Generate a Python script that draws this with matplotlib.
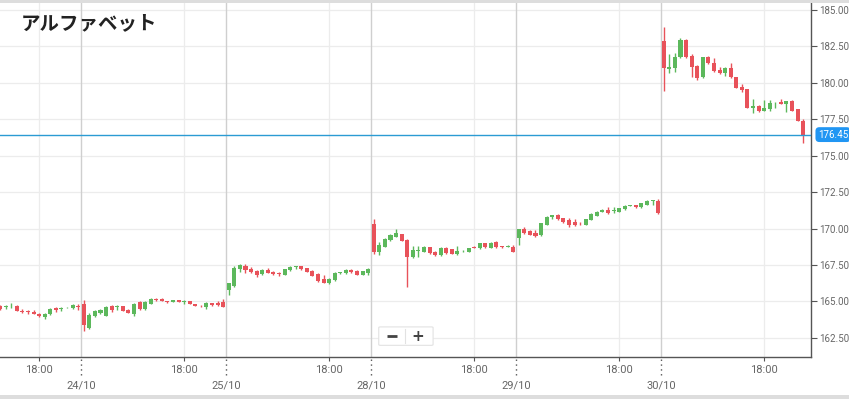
import numpy as np
import matplotlib
matplotlib.use('Agg')
import matplotlib.pyplot as plt
from matplotlib.patches import FancyBboxPatch, Rectangle
from matplotlib.transforms import blended_transform_factory

plt.rcParams['font.family'] = ['Roboto', 'Noto Sans CJK JP', 'DejaVu Sans']

title = 'アルファベット'
last_price = 176.45

opens = [164.72, 164.60, 164.67, 164.72, 164.36, 164.33, 164.30, 164.17, 163.93, 164.12,
         164.54, 164.47, 164.54, 164.55, 164.72,
         164.82, 163.20, 164.00, 164.18, 164.03, 164.67, 164.60, 164.67, 164.42, 164.12,
         164.94, 164.47, 164.86, 165.15, 165.14, 165.00, 164.95, 165.10, 164.96, 165.03,
         164.81, 164.72, 164.65, 164.88, 164.92, 164.98,
         165.80, 166.03, 167.25, 167.40, 167.25, 167.12, 166.89, 167.16, 167.05, 166.98,
         166.83, 167.16, 167.36, 167.40, 167.28, 167.10, 166.90, 166.52, 166.25, 166.47,
         166.94, 166.94, 167.14, 167.12, 166.85, 166.93,
         170.32, 168.42, 168.77, 169.22, 169.45, 169.63, 169.22, 168.03, 168.45, 168.42,
         168.72, 168.42, 168.20, 168.65, 168.58, 168.24, 168.44, 168.42, 168.76, 168.66,
         168.99, 168.68, 169.06, 168.80, 168.74, 168.76,
         169.33, 169.95, 169.84, 169.72, 169.57, 170.27, 170.82, 170.93, 170.70, 170.60,
         170.42, 170.34, 170.27, 170.60, 170.87, 171.16, 171.28, 171.18, 171.17, 171.33,
         171.55, 171.62, 171.47, 171.62, 171.88, 171.92,
         182.87, 180.98, 181.00, 181.76, 182.94, 181.86, 181.15, 180.38, 181.76, 181.38,
         180.88, 180.70, 181.00, 180.38, 179.73, 179.56, 178.30, 178.41, 178.10, 178.20,
         178.60, 178.71, 178.53, 178.76, 178.19, 177.40]
highs = [164.78, 164.75, 164.88, 164.75, 164.45, 164.42, 164.42, 164.22, 164.22, 164.52,
         164.62, 164.65, 164.60, 164.84, 164.82,
         165.10, 164.18, 164.40, 164.47, 164.67, 164.76, 164.76, 164.70, 164.45, 164.88,
         165.00, 165.05, 165.22, 165.22, 165.22, 165.02, 165.12, 165.12, 165.08, 165.05,
         164.83, 164.74, 164.94, 164.92, 165.03, 165.15,
         166.30, 167.45, 167.60, 167.55, 167.35, 167.16, 167.20, 167.33, 167.12, 167.05,
         167.24, 167.40, 167.45, 167.46, 167.30, 167.16, 166.98, 166.82, 166.60, 167.05,
         167.05, 167.25, 167.20, 167.16, 167.10, 167.33,
         170.65, 169.10, 169.35, 169.63, 169.95, 169.65, 169.27, 168.80, 168.80, 168.80,
         168.76, 168.45, 168.75, 168.72, 168.60, 168.80, 168.55, 168.70, 168.82, 169.02,
         169.02, 169.08, 169.15, 168.83, 168.85, 168.90,
         170.00, 170.13, 169.90, 169.90, 170.40, 170.85, 170.95, 170.98, 170.75, 170.70,
         170.66, 170.42, 170.68, 171.05, 171.20, 171.32, 171.50, 171.45, 171.43, 171.60,
         171.65, 171.65, 171.76, 171.95, 171.98, 172.00,
         183.85, 182.00, 182.03, 183.06, 183.00, 181.96, 181.22, 181.80, 181.85, 181.68,
         181.12, 181.12, 181.38, 180.42, 179.90, 179.60, 178.87, 178.50, 178.82, 178.84,
         178.72, 178.90, 178.78, 178.80, 178.22, 177.50]
lows = [164.42, 164.45, 164.58, 164.33, 164.20, 164.17, 164.12, 163.95, 163.83, 164.10,
        164.30, 164.36, 164.52, 164.50, 164.42,
        163.00, 163.08, 163.95, 164.12, 164.00, 164.30, 164.42, 164.35, 164.18, 164.03,
        164.42, 164.42, 164.81, 165.00, 165.00, 164.92, 164.93, 164.93, 164.82, 164.80,
        164.68, 164.65, 164.46, 164.72, 164.72, 164.62,
        165.45, 165.98, 167.05, 166.95, 166.93, 166.66, 166.82, 166.93, 166.82, 166.76,
        166.80, 167.12, 167.22, 167.18, 167.00, 166.75, 166.32, 166.28, 166.18, 166.42,
        166.90, 166.88, 166.96, 166.82, 166.82, 166.84,
        168.25, 168.20, 168.72, 169.15, 169.43, 169.15, 166.02, 167.98, 168.05, 168.40,
        168.27, 168.10, 168.10, 168.25, 168.25, 168.22, 168.40, 168.40, 168.64, 168.62,
        168.70, 168.64, 168.65, 168.70, 168.72, 168.38,
        168.88, 169.60, 169.55, 169.40, 169.50, 170.22, 170.64, 170.60, 170.40, 170.10,
        170.15, 170.28, 170.25, 170.58, 170.84, 171.14, 171.00, 171.05, 171.15, 171.30,
        171.53, 171.44, 171.44, 171.60, 171.65, 171.00,
        179.46, 180.66, 180.77, 181.70, 181.72, 180.38, 180.20, 180.36, 181.30, 180.75,
        180.60, 180.47, 180.36, 179.64, 179.40, 178.28, 177.95, 178.00, 178.07, 178.10,
        178.28, 178.52, 178.02, 178.05, 177.38, 175.90]
closes = [164.50, 164.67, 164.72, 164.36, 164.26, 164.26, 164.17, 164.02, 164.15, 164.49,
          164.44, 164.54, 164.58, 164.77, 164.60,
          163.42, 164.06, 164.35, 164.42, 164.65, 164.42, 164.70, 164.38, 164.20, 164.81,
          164.47, 164.94, 165.17, 165.07, 165.06, 164.94, 165.10, 164.95, 165.03, 164.81,
          164.70, 164.67, 164.88, 164.77, 164.77, 164.65,
          166.25, 167.28, 167.47, 167.16, 167.03, 166.83, 167.16, 166.98, 166.90, 166.90,
          167.21, 167.35, 167.44, 167.26, 167.05, 166.78, 166.42, 166.30, 166.55, 166.93,
          167.02, 167.16, 167.03, 166.85, 167.07, 167.21,
          168.42, 168.88, 169.27, 169.57, 169.68, 169.18, 168.03, 168.50, 168.52, 168.76,
          168.30, 168.20, 168.65, 168.30, 168.27, 168.46, 168.49, 168.65, 168.66, 168.99,
          168.72, 169.04, 168.74, 168.74, 168.78, 168.42,
          169.95, 169.68, 169.57, 169.50, 170.37, 170.82, 170.90, 170.66, 170.48, 170.26,
          170.27, 170.30, 170.64, 171.00, 171.16, 171.28, 171.06, 171.26, 171.40, 171.55,
          171.60, 171.47, 171.73, 171.91, 171.93, 171.05,
          181.00, 181.12, 181.76, 182.94, 181.80, 181.07, 180.31, 181.76, 181.35, 180.84,
          180.70, 181.00, 180.38, 179.67, 179.51, 178.30, 178.42, 178.08, 178.30, 178.60,
          178.65, 178.53, 178.76, 178.10, 177.40, 176.45]

time_labels = ['18:00'] * 6
time_pos = [7, 33, 59, 85, 111, 137]
date_labels = ['24/10', '25/10', '28/10', '29/10', '30/10']
date_pos = [14.5, 40.5, 66.5, 92.5, 118.5]
price_ticks = np.arange(162.5, 185.01, 2.5)

GREEN = '#5cb85c'
RED = '#e8525a'

o = np.array(opens); h = np.array(highs); l = np.array(lows); c = np.array(closes)
x = np.arange(len(o))
up = c >= o
col = np.where(up, GREEN, RED)

fig = plt.figure(figsize=(8.49, 3.99), dpi=100)
ax = fig.add_axes([0, 42 / 399, 811 / 849, 354 / 399])

ax.set_xlim(-0.02, 145.4)
ax.set_ylim(161.19, 185.48)

# grid
for p in price_ticks:
    ax.axhline(p, color='#ececec', lw=0.9, zorder=0)
for t in time_pos:
    ax.axvline(t, color='#ececec', lw=0.9, zorder=0)
for d in date_pos:
    ax.axvline(d, color='#cfcfcf', lw=1.0, zorder=0)

# candles
ax.vlines(x, l, h, colors=col, lw=1.0, zorder=2)
body_lo = np.minimum(o, c)
body_h = np.maximum(np.abs(c - o), 0.04)
ax.bar(x, body_h, bottom=body_lo, width=0.72, color=col, lw=0, zorder=3)

# last price line + label
ax.axhline(last_price, color='#2b9bd3', lw=1.0, zorder=4)
tr = blended_transform_factory(ax.transAxes, ax.transData)
ax.text(1.0085, last_price, f'{last_price:.2f}', transform=tr, color='white',
        fontsize=7, va='center', ha='left', clip_on=False, zorder=6,
        bbox=dict(boxstyle='round,pad=0.25,rounding_size=0.4', fc='#2196f3', ec='none'))

# axes styling
for s in ['left', 'top']:
    ax.spines[s].set_visible(False)
for s in ['right', 'bottom']:
    ax.spines[s].set_color('#555555')
    ax.spines[s].set_linewidth(1.0)

ax.yaxis.tick_right()
ax.set_yticks(price_ticks)
ax.set_yticklabels([f'{p:.2f}' for p in price_ticks])
ax.tick_params(axis='y', length=4, width=0.8, color='#555555', labelcolor='#666666',
               labelsize=7, pad=2)

ax.set_xticks(time_pos)
ax.set_xticklabels(time_labels)
ax.set_xticks(date_pos, minor=True)
ax.set_xticklabels(date_labels, minor=True)
ax.tick_params(axis='x', which='major', length=3, width=0.8, color='#555555',
               labelcolor='#666666', labelsize=8, pad=3)
ax.tick_params(axis='x', which='minor', length=0, labelcolor='#666666',
               labelsize=8, pad=17)

# dotted day separators below axis
xt = ax.get_xaxis_transform()
ax.vlines(date_pos, -0.05, 0, transform=xt, colors='#555555', lw=1.0,
          linestyles=(0, (1, 2.5)), clip_on=False)

# zoom buttons
ax.add_patch(FancyBboxPatch((0.469, 0.035), 0.063, 0.048,
                            boxstyle='round,pad=0.002', transform=ax.transAxes,
                            fc='white', ec='#e2e2e2', lw=0.8, zorder=7))
ax.plot([0.4995, 0.4995], [0.04, 0.078], transform=ax.transAxes, color='#e2e2e2',
        lw=0.8, zorder=8)
ax.plot([0.4775, 0.4895], [0.059, 0.059], transform=ax.transAxes, color='#444444',
        lw=2.0, solid_capstyle='butt', zorder=8)
ax.text(0.5155, 0.059, '+', transform=ax.transAxes, ha='center', va='center',
        fontsize=11, fontweight='bold', color='#444444', zorder=8,
        family='DejaVu Sans')

# title
fig.text(21 / 849, 1 - 24 / 399, title, fontsize=14, fontweight='bold',
         color='#222222', va='center', ha='left')

# gray bands at top and bottom
fig.patches.append(Rectangle((0, 1 - 3 / 399), 1, 3 / 399, transform=fig.transFigure,
                             fc='#dddddd', ec='none'))
fig.patches.append(Rectangle((0, 0), 1, 4 / 399, transform=fig.transFigure,
                             fc='#dddddd', ec='none'))

fig.savefig('out.png', dpi=100)
